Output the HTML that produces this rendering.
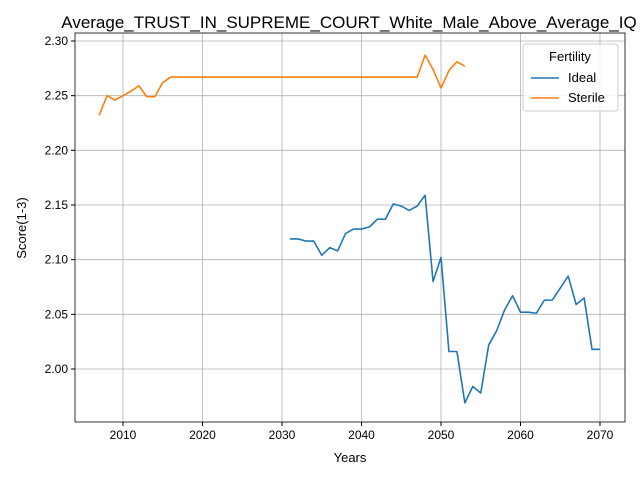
<!DOCTYPE html>
<html><head><meta charset="utf-8"><style>body{margin:0;background:#fff}svg{font-family:"Liberation Sans","DejaVu Sans",sans-serif}</style></head>
<body>
<svg id="c" width="640" height="480"></svg>
<script>
const xTicks=[2010,2020,2030,2040,2050,2060,2070];
const yTicks=[2.00,2.05,2.10,2.15,2.20,2.25,2.30];
const sterileYears=[2007,2008,2009,2010,2011,2012,2013,2014,2015,2016,2017,2018,2019,2020,2021,2022,2023,2024,2025,2026,2027,2028,2029,2030,2031,2032,2033,2034,2035,2036,2037,2038,2039,2040,2041,2042,2043,2044,2045,2046,2047,2048,2049,2050,2051,2052,2053];
const sterileVals=[2.232,2.250,2.246,2.250,2.254,2.259,2.249,2.249,2.262,2.267,2.267,2.267,2.267,2.267,2.267,2.267,2.267,2.267,2.267,2.267,2.267,2.267,2.267,2.267,2.267,2.267,2.267,2.267,2.267,2.267,2.267,2.267,2.267,2.267,2.267,2.267,2.267,2.267,2.267,2.267,2.267,2.287,2.274,2.257,2.273,2.281,2.277];
const idealYears=[2031,2032,2033,2034,2035,2036,2037,2038,2039,2040,2041,2042,2043,2044,2045,2046,2047,2048,2049,2050,2051,2052,2053,2054,2055,2056,2057,2058,2059,2060,2061,2062,2063,2064,2065,2066,2067,2068,2069,2070];
const idealVals=[2.119,2.119,2.117,2.117,2.104,2.111,2.108,2.124,2.128,2.128,2.130,2.137,2.137,2.151,2.149,2.145,2.149,2.159,2.080,2.102,2.016,2.016,1.969,1.984,1.978,2.022,2.035,2.054,2.067,2.052,2.052,2.051,2.063,2.063,2.074,2.085,2.059,2.065,2.018,2.018];
const svg=document.getElementById('c');const NS='http://www.w3.org/2000/svg';
const X=y=>123+(y-2010)*7.95, Y=v=>41+(2.30-v)*1093.33;
function mk(t,a,p){const e=document.createElementNS(NS,t);for(const k in a)e.setAttribute(k,a[k]);(p||svg).appendChild(e);return e;}
const L=75,R=625,T=33,B=422;
xTicks.forEach(t=>{const g=mk('line',{x1:X(t),x2:X(t),y1:T,y2:B,stroke:'#b0b0b0','stroke-width':0.8});

mk('line',{x1:X(t),x2:X(t),y1:B,y2:B+4,stroke:'#000'});
const tx=mk('text',{x:X(t),y:B+17,'font-size':12,'text-anchor':'middle'});tx.textContent=t;
});
yTicks.forEach(t=>{const g=mk('line',{x1:L,x2:R,y1:Y(t),y2:Y(t),stroke:'#b0b0b0','stroke-width':0.8});

mk('line',{x1:L-4,x2:L,y1:Y(t),y2:Y(t),stroke:'#000'});
const tx=mk('text',{x:L-7,y:Y(t)+4,'font-size':12,'text-anchor':'end'});tx.textContent=t.toFixed(2);
});
function line(ys,vs,c,n){const p=mk('polyline',{points:ys.map((y,i)=>X(y)+','+Y(vs[i])).join(' '),fill:'none',stroke:c,'stroke-width':1.6,'stroke-linejoin':'round'});
}
line(idealYears,idealVals,'#1f77b4','ideal-line');
line(sterileYears,sterileVals,'#ff7f0e','sterile-line');
const fr=mk('rect',{x:L,y:T,width:R-L,height:B-T,fill:'none',stroke:'#000','stroke-width':0.8});

</script>
<svg width="640" height="480" style="position:absolute;left:0;top:0">
<text x="349" y="28" font-size="17" text-anchor="middle" font-family="Liberation Sans, sans-serif">Average_TRUST_IN_SUPREME_COURT_White_Male_Above_Average_IQ</text>
<text x="350" y="462" font-size="13" text-anchor="middle" font-family="Liberation Sans, sans-serif">Years</text>
<text transform="translate(26,228) rotate(-90)" font-size="13" text-anchor="middle" font-family="Liberation Sans, sans-serif">Score(1-3)</text>
<g font-family="Liberation Sans, sans-serif">
<rect x="523" y="44" width="95" height="67" rx="3" fill="#fff" fill-opacity="0.8" stroke="#ccc"/>
<text x="570" y="61" font-size="13" text-anchor="middle">Fertility</text>
<line x1="531" x2="559" y1="78" y2="78" stroke="#1f77b4" stroke-width="1.6"/>
<text x="568" y="82" font-size="13">Ideal</text>
<line x1="531" x2="559" y1="98" y2="98" stroke="#ff7f0e" stroke-width="1.6"/>
<text x="568" y="102" font-size="13">Sterile</text>
</g>
</svg>
</body></html>
